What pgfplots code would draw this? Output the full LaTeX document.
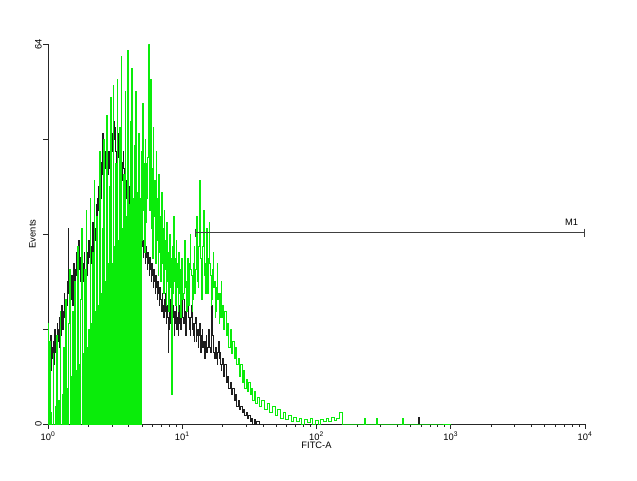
\documentclass[border=0pt]{standalone}
\usepackage{fontspec}
\setmainfont{Liberation Sans}
\usepackage{pgfplots}
\usepackage{pgfplotstable}
\pgfplotsset{compat=1.18}
\definecolor{gl}{RGB}{10,236,10}
\definecolor{bl}{RGB}{30,30,30}
\pgfplotstableread{
x g b
0.000 17 32
0.005 0 9
0.010 0 12
0.015 14 10
0.020 0 15
0.025 2 9
0.030 0 13
0.035 0 11
0.040 12 14
0.045 0 10
0.050 0 16
0.055 3 12
0.060 0 15
0.065 15 11
0.070 0 17
0.075 0 14
0.080 4 16
0.085 0 13
0.090 19 18
0.095 0 15
0.100 0 17
0.105 5 20
0.110 0 16
0.115 13 19
0.120 0 22
0.125 0 18
0.130 21 21
0.135 0 17
0.140 6 20
0.145 0 24
0.150 0 33
0.155 17 22
0.160 26 19
0.165 0 23
0.170 0 21
0.175 8 25
0.180 0 22
0.185 19 20
0.190 0 27
0.195 0 24
0.200 24 22
0.205 0 26
0.210 9 29
0.215 0 25
0.220 30 27
0.225 0 23
0.230 0 31
0.235 10 26
0.240 0 24
0.245 21 28
0.250 33 25
0.255 0 30
0.260 0 24
0.265 12 27
0.270 0 29
0.275 26 23
0.280 0 26
0.285 36 28
0.290 0 25
0.295 13 29
0.300 0 27
0.305 16 31
0.310 0 28
0.315 38 33
0.320 0 30
0.325 17 27
0.330 0 32
0.335 29 34
0.340 0 29
0.345 41 35
0.350 0 33
0.355 19 31
0.360 0 37
0.365 35 34
0.370 0 38
0.375 20 36
0.380 0 40
0.385 46 37
0.390 0 41
0.395 22 38
0.400 0 44
0.405 33 42
0.410 0 49
0.415 48 45
0.420 0 47
0.425 24 43
0.430 0 46
0.435 52 44
0.440 0 48
0.445 27 45
0.450 0 42
0.455 40 46
0.460 0 43
0.465 55 47
0.470 0 44
0.475 27 49
0.480 0 46
0.485 57 54
0.490 0 51
0.495 30 48
0.500 0 50
0.505 44 46
0.510 0 44
0.515 58 47
0.520 0 49
0.525 31 45
0.530 0 42
0.535 50 46
0.540 0 43
0.545 62 45
0.550 0 41
0.555 33 44
0.560 0 46
0.565 42 43
0.570 0 40
0.575 56 42
0.580 0 38
0.585 35 41
0.590 0 39
0.595 63 43
0.600 0 37
0.605 37 40
0.610 0 36
0.615 51 38
0.620 0 34
0.625 60 37
0.630 0 35
0.635 38 38
0.640 0 33
0.645 47 36
0.650 0 34
0.655 56 37
0.660 0 31
0.665 39 35
0.670 0 33
0.675 49 30
0.680 0 34
0.685 38 31
0.690 0 33
0.695 46 29
0.700 31 32
0.705 54 30
0.710 36 28
0.715 44 31
0.720 29 29
0.725 48 27
0.730 34 30
0.735 44 28
0.740 38 26
0.745 45 29
0.750 64 27
0.755 52 25
0.760 36 28
0.765 58 26
0.770 33 24
0.775 43 27
0.780 28 25
0.785 50 23
0.790 35 26
0.795 41 24
0.800 27 22
0.805 46 25
0.810 31 23
0.815 38 21
0.820 25 24
0.825 42 22
0.830 29 20
0.835 35 23
0.840 24 21
0.845 39 19
0.850 27 22
0.855 33 20
0.860 22 18
0.865 36 21
0.870 26 19
0.875 31 22
0.880 20 17
0.885 34 20
0.890 24 18
0.895 29 12
0.900 19 16
0.905 32 19
0.910 23 21
0.915 28 17
0.920 5 19
0.925 30 16
0.930 22 20
0.935 35 18
0.940 24 15
0.945 28 19
0.950 20 17
0.955 31 21
0.960 23 16
0.965 27 18
0.970 19 15
0.975 29 20
0.980 22 17
0.985 26 19
0.990 18 16
0.995 28 21
1.000 27 20
1.005 21 18
1.010 22 17
1.015 28 21
1.020 31 19
1.025 23 15
1.030 24 16
1.035 19 22
1.040 28 26
1.045 24 21
1.050 20 18
1.055 27 16
1.060 32 15
1.065 26 18
1.070 25 20
1.075 19 16
1.080 21 17
1.085 27 15
1.090 30 14
1.095 22 17
1.100 26 18
1.105 31 14
1.110 35 15
1.115 24 16
1.120 23 13
1.125 30 15
1.130 41 17
1.135 29 13
1.140 28 12
1.145 21 15
1.150 24 16
1.155 30 13
1.160 36 14
1.165 25 12
1.170 27 11
1.175 22 14
1.180 33 15
1.185 26 12
1.190 22 13
1.195 28 15
1.200 34 16
1.205 27 13
1.210 25 12
1.215 20 17
1.220 21 20
1.225 26 15
1.230 29 14
1.235 23 12
1.240 24 11
1.245 18 13
1.250 19 13
1.255 23 11
1.260 27 10
1.265 21 12
1.270 22 14
1.275 17 11
1.280 18 12
1.285 22 10
1.290 24 9
1.295 18 10
1.300 20 11
1.31 16 8
1.32 19 10
1.33 15 7
1.34 17 8
1.35 13 6
1.36 16 7
1.37 12 5
1.38 14 6
1.39 11 4
1.40 13 5
1.41 10 3
1.42 11 4
1.43 8 2.5
1.44 10 3
1.45 7 2
1.46 9 2.5
1.47 6 1.5
1.48 7.5 2
1.49 5.5 1
1.50 7 1.5
1.51 5 0.5
1.52 6 1
1.53 4 0
1.54 5.5 0.8
1.55 3.5 0
1.56 4.5 0.5
1.58 3 0
1.60 4 0
1.62 2.5 0
1.64 3.5 0
1.66 2 0
1.68 3 0
1.70 1.5 0
1.72 2.5 0
1.74 1 0
1.76 2 0
1.78 0.8 0
1.80 1.5 0
1.82 0.5 0
1.84 1.2 0
1.86 0.5 0
1.88 1 0
1.90 0 0
1.92 0.8 0
1.94 0.3 0
1.96 1 0
1.98 0 0
2.00 0.7 0
2.02 0 0
2.04 0.8 0
2.06 0.4 0
2.08 1 0
2.10 0.5 0
2.12 1.2 0
2.14 0.6 0
2.16 1 0
2.18 2 0
2.20 0 0
2.35 0 0
2.36 0.9 0
2.37 0 0
2.44 0 0
2.45 0.9 0
2.46 0 0
2.63 0 0
2.64 1 0
2.65 0 0
2.75 0 0
2.76 0 1.1
2.77 0 0
3.00 0 0
}\flowdata
\begin{document}
\begin{tikzpicture}
\fill[white,use as bounding box] (-36pt,-42pt) rectangle (441.75pt,318pt);
\begin{axis}[
  at={(0,0)}, anchor=origin,
  scale only axis, width=402.75pt, height=285pt,
  xmin=0, xmax=4, ymin=0, ymax=64,
  clip=false,
  axis lines*=left,
  axis line style={line width=0.6pt, black!85},
  tick align=outside,
  major tick length=3.5pt, minor tick length=2pt,
  tick style={black!85, line width=0.5pt},
  xtick={0,1,2,3,4},
  xticklabels={10\textsuperscript{0},10\textsuperscript{1},10\textsuperscript{2},10\textsuperscript{3},10\textsuperscript{4}},
  minor xtick={0.30103,0.47712,0.60206,0.69897,0.77815,0.84510,0.90309,0.95424,
    1.30103,1.47712,1.60206,1.69897,1.77815,1.84510,1.90309,1.95424,
    2.30103,2.47712,2.60206,2.69897,2.77815,2.84510,2.90309,2.95424,
    3.30103,3.47712,3.60206,3.69897,3.77815,3.84510,3.90309,3.95424},
  ytick={0,16,32,48,64},
  yticklabels={0,,,,64},
  yticklabel style={rotate=90, anchor=south, inner sep=1pt},
  xticklabel style={inner sep=1pt, yshift=-1pt},
  ticklabel style={font=\fontsize{7}{8}\selectfont},
  xlabel={FITC-A}, ylabel={Events},
  label style={font=\fontsize{7}{8}\selectfont},
  xlabel style={yshift=3pt},
  ylabel style={yshift=-5pt},
]
\addplot[bl, line width=0.4pt, const plot mark mid] table[x=x,y=b] {\flowdata};
\addplot[gl, line width=0.35pt, const plot mark mid] table[x=x,y=g] {\flowdata};
\addplot[black!75, line width=0.6pt, |-|] coordinates {(1.095,32.2) (4,32.2)};
\node[font=\fontsize{7}{8}\selectfont, anchor=south] at (axis cs:3.9,32.6) {M1};
\end{axis}
\end{tikzpicture}
\end{document}
